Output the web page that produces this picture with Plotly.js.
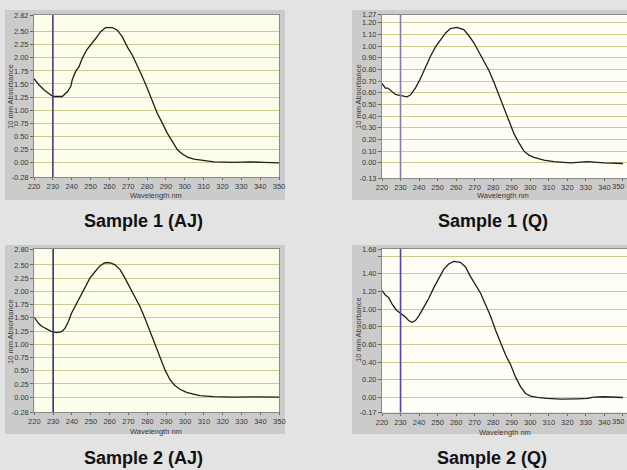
<!DOCTYPE html>
<html>
<head>
<meta charset="utf-8">
<script src="https://cdn.plot.ly/plotly-3.0.1.min.js"></script>
<style>html,body{margin:0;padding:0;background:#e3e3e3;}#chart{width:627px;height:470px;}</style>
</head>
<body>
<div id="chart"></div>
<script>
// ---- data ----
const panelTitles = ["Sample 1 (AJ)", "Sample 1 (Q)", "Sample 2 (AJ)", "Sample 2 (Q)"];
const markerWavelength = 230;

const s1ajWavelength = [220,222.7,225.3,228.8,230.6,235.0,237.7,239.5,240.3,242.1,243.9,245.6,247.9,250.1,252.7,255.4,258.0,261.6,264.2,266.9,269.5,272.2,274.8,277.5,280.1,282.8,285.4,288.1,290.7,293.4,296.1,298.7,301.4,304.9,310.2,315.5,326.1,335,342,350];
const s1ajAbsorbance = [1.60,1.48,1.39,1.29,1.26,1.26,1.35,1.45,1.58,1.74,1.83,1.99,2.15,2.26,2.37,2.50,2.58,2.58,2.53,2.40,2.21,2.05,1.86,1.64,1.42,1.16,0.94,0.75,0.56,0.40,0.24,0.16,0.10,0.06,0.03,0.01,0.00,0.01,0.00,-0.01];

const s1qWavelength = [220,221.8,223.1,224.5,227.2,230.3,233.5,235.3,238.0,240.7,243.4,246.1,248.8,251.5,254.2,256.9,260.5,264.1,266.8,269.5,272.3,275.0,277.7,280.4,283.1,285.8,288.5,291.2,293.9,296.6,299.3,302.0,307.4,312.8,321.8,330.8,339.8,350];
const s1qAbsorbance = [0.68,0.64,0.64,0.62,0.585,0.575,0.565,0.58,0.64,0.72,0.82,0.91,0.99,1.05,1.11,1.15,1.16,1.14,1.09,1.03,0.95,0.88,0.79,0.69,0.58,0.47,0.35,0.25,0.17,0.10,0.066,0.046,0.023,0.011,0.00,0.01,0.00,-0.006];

const s2ajWavelength = [220,222.1,223.9,226.5,229.2,231.9,234.5,236.3,238.1,239.8,241.6,244.2,246.9,249.5,252.2,254.8,257.5,260.1,262.8,265.5,268.1,270.8,273.4,276.1,278.7,281.4,284.0,286.7,289.3,292.0,294.6,297.3,300.8,304.4,307.9,315.0,325.6,336.2,350];
const s2ajAbsorbance = [1.51,1.40,1.34,1.29,1.24,1.22,1.24,1.30,1.43,1.59,1.71,1.90,2.09,2.25,2.37,2.48,2.54,2.54,2.50,2.41,2.25,2.06,1.90,1.71,1.49,1.24,0.99,0.74,0.52,0.33,0.22,0.15,0.09,0.06,0.03,0.01,0.00,0.005,0.00];

const s2qWavelength = [220,221.8,223.6,225.4,227.7,230.3,232.6,234.4,236.2,238.0,239.8,242.5,245.2,247.9,250.6,253.3,256.0,258.7,262.3,265.0,267.7,270.5,273.2,275.9,278.6,281.3,284.0,286.7,289.4,292.1,294.8,297.5,300.2,303.8,309.2,316.4,325.4,330.8,334.4,339.8,350];
const s2qAbsorbance = [1.21,1.16,1.13,1.06,0.99,0.95,0.91,0.87,0.85,0.87,0.92,1.02,1.12,1.24,1.35,1.45,1.51,1.54,1.53,1.48,1.37,1.28,1.18,1.05,0.92,0.76,0.61,0.48,0.37,0.23,0.12,0.045,0.015,0.00,-0.011,-0.019,-0.015,-0.011,0.004,0.008,0.00];

const xTickValues = [220,230,240,250,260,270,280,290,300,310,320,330,340,350];
const yTicks1 = [-0.28,0,0.25,0.5,0.75,1.0,1.25,1.5,1.75,2.0,2.25,2.5,2.82];
const yTicks2 = [-0.13,0,0.1,0.2,0.3,0.4,0.5,0.6,0.7,0.8,0.9,1.0,1.1,1.2,1.27];
const yTicks3 = [-0.28,0,0.25,0.5,0.75,1.0,1.25,1.5,1.75,2.0,2.25,2.5,2.80];
const yTicks4 = [-0.17,0,0.2,0.4,0.6,0.8,1.0,1.2,1.4,1.6,1.68];
const yTicks4Hidden = [1.6];

// ---- layout helpers ----
const W = 627, H = 470;
const px = v => v / W;
const py = v => 1 - v / H;

const panels = [
  {x:s1ajWavelength, y:s1ajAbsorbance, ticks:yTicks1, hidden:[], xd:[34,279], xr:[220,350], yd:[15,177], box:[5,285,10,200], vline:'#4a3c6e', title:[143.7,221], xt:[156,196], yt:[10,97], edge:false},
  {x:s1qWavelength, y:s1qAbsorbance, ticks:yTicks2, hidden:[], xd:[382,627], xr:[220,352.2], yd:[14.5,178], box:[352,627,10,200], vline:'#8c7aaa', title:[492.5,221], xt:[503,196], yt:[358,97], edge:true},
  {x:s2ajWavelength, y:s2ajAbsorbance, ticks:yTicks3, hidden:[], xd:[34.3,279.3], xr:[220,350], yd:[249,412], box:[5,285,245,434], vline:'#3b2f6c', title:[143.7,458], xt:[156,431], yt:[10,332], edge:false},
  {x:s2qWavelength, y:s2qAbsorbance, ticks:yTicks4, hidden:yTicks4Hidden, xd:[382,627], xr:[220,352.2], yd:[249,412.5], box:[352,627,245,434], vline:'#5142a6', title:[491.7,458], xt:[505,432], yt:[358,330], edge:true}
];

const tickFont = {family:'Liberation Sans, Arial, sans-serif', size:7.5, color:'#3a3a3a'};
const traces = [];
const layout = {
  width: W, height: H, autosize:false,
  margin:{l:0,r:0,t:0,b:0},
  paper_bgcolor:'#e3e3e3',
  plot_bgcolor:'rgba(0,0,0,0)',
  showlegend:false,
  shapes:[], annotations:[]
};

panels.forEach((p,i) => {
  const n = i+1;
  const xa = n===1 ? 'x' : 'x'+n, ya = n===1 ? 'y' : 'y'+n;
  const xk = n===1 ? 'xaxis' : 'xaxis'+n, yk = n===1 ? 'yaxis' : 'yaxis'+n;
  traces.push({x:p.x, y:p.y, xaxis:xa, yaxis:ya, type:'scatter', mode:'lines',
    line:{color:'#1e1e1e', width:1.3}, hoverinfo:'skip'});
  const [yMin, yMax] = [p.ticks[0], p.ticks[p.ticks.length-1]];
  layout[xk] = {domain:[px(p.xd[0]), px(p.xd[1])], anchor:ya, range:p.xr,
    tickvals:xTickValues, ticktext:xTickValues.map(String), tickfont:tickFont,
    ticks:'outside', ticklen:2, tickcolor:'#666', showgrid:false, zeroline:false,
    showline:true, linecolor:'#8a8a8a', linewidth:1, mirror:true};
  layout[yk] = {domain:[py(p.yd[1]), py(p.yd[0])], anchor:xa, range:[yMin,yMax],
    tickvals:p.ticks, ticktext:p.ticks.map(v => p.hidden.includes(v) ? '' : v.toFixed(2)),
    tickfont:tickFont, ticks:'outside', ticklen:3, tickcolor:'#666',
    showgrid:true, gridcolor:'#cbcb8e', gridwidth:1, zeroline:false,
    showline:true, linecolor:'#8a8a8a', linewidth:1, mirror:true};
  // last x tick label on the right-hand panels, nudged to stay inside the page
  if (p.edge) {
    const last = xTickValues[xTickValues.length-1];
    layout.annotations.push({text:String(last), xref:xa, yref:ya+' domain', x:last, y:0,
      xanchor:'center', yanchor:'top', yshift:-2, xshift:-4, showarrow:false, font:tickFont});
  }
  // grey panel box
  layout.shapes.push({type:'rect', xref:'paper', yref:'paper', layer:'below',
    x0:px(p.box[0]), x1:px(p.box[1]), y0:py(p.box[3]), y1:py(p.box[2]),
    fillcolor:'#cbcbcb', line:{width:0}});
  // plot background
  layout.shapes.push({type:'rect', xref:'paper', yref:'paper', layer:'below',
    x0:px(p.xd[0]), x1:px(p.xd[1]), y0:py(p.yd[1]), y1:py(p.yd[0]),
    fillcolor: (n%2===1) ? '#fdfdec' : '#fefef6', line:{width:0}});
  // marker line
  layout.shapes.push({type:'line', xref:xa, yref:ya+' domain', layer:'above',
    x0:markerWavelength, x1:markerWavelength, y0:0, y1:1,
    line:{color:p.vline, width:1.6}});
  // titles
  layout.annotations.push({text:'<b>'+panelTitles[i]+'</b>', xref:'paper', yref:'paper',
    x:px(p.title[0]), y:py(p.title[1]), xanchor:'center', yanchor:'middle', showarrow:false,
    font:{family:'Liberation Sans, Arial, sans-serif', size:18, color:'#111'}});
  layout.annotations.push({text:'Wavelength nm', xref:'paper', yref:'paper',
    x:px(p.xt[0]), y:py(p.xt[1]), xanchor:'center', yanchor:'middle', showarrow:false,
    font:{family:'Liberation Sans, Arial, sans-serif', size:7.5, color:'#3a3a3a'}});
  layout.annotations.push({text:'10 mm Absorbance', xref:'paper', yref:'paper', textangle:-90,
    x:px(p.yt[0]), y:py(p.yt[1]), xanchor:'center', yanchor:'middle', showarrow:false,
    font:{family:'Liberation Sans, Arial, sans-serif', size:7.5, color:'#3a3a3a'}});
});

Plotly.newPlot('chart', traces, layout, {staticPlot:true, displayModeBar:false});
</script>
</body>
</html>
